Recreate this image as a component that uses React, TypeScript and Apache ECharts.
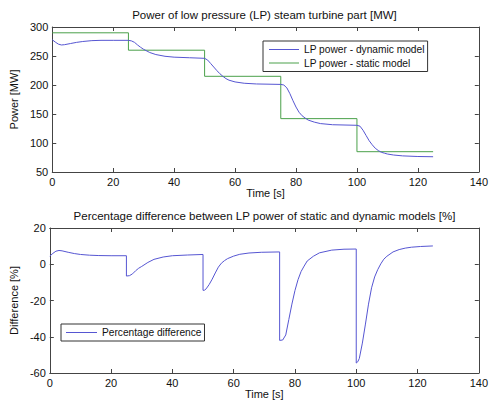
import React, { useEffect, useRef } from 'react';
import * as echarts from 'echarts';

const titleTop = 'Power of low pressure (LP) steam turbine part [MW]';
const titleBottom = 'Percentage difference between LP power of static and dynamic models [%]';
const nameDynamic = 'LP power - dynamic model';
const nameStatic = 'LP power - static model';
const nameDiff = 'Percentage difference';

const dynT = [0, 1, 2, 3, 4, 6, 8, 10, 13, 16, 20, 25, 26, 27, 28, 29, 30, 32, 34, 37, 40, 45, 50,
  51, 52, 53, 54, 55, 56, 57, 58, 60, 63, 67, 75,
  76, 77, 78, 79, 80, 81, 82, 83, 84, 86, 88, 92, 100,
  101, 102, 103, 104, 105, 106, 107, 108, 109, 110, 112, 115, 120, 125];
const dynV = [278, 274, 270.5, 269, 269.5, 271.5, 273.5, 275, 276.5, 277, 277, 277, 276, 273.5, 269, 265, 261.5, 256, 252.5, 249.5, 248, 247, 246,
  243, 237, 231, 225, 219.5, 215, 211, 208.3, 205.3, 203, 201.8, 201,
  200, 195, 185, 173, 162, 153, 147, 143, 139.5, 136, 133.5, 131.5, 130.5,
  129, 122, 113, 104, 97, 91, 87, 84, 82.5, 81, 79.3, 77.8, 76.7, 76.3];

const staticT = [0, 25, 50, 75, 100, 125];
const staticV = [290, 260, 215, 142, 85, 85];

const diffT = [0, 1, 2, 3, 4, 6, 8, 10, 13, 16, 20, 25, 25, 26, 27, 28, 29, 30, 32, 34, 37, 40, 45, 50,
  50, 50.5, 51, 52, 53, 54, 55, 56, 57, 58, 60, 62, 65, 69, 75,
  75, 76, 77, 78, 79, 80, 81, 82, 83, 84, 86, 88, 92, 96, 100,
  100, 100.5, 101, 102, 103, 104, 105, 106, 107, 108, 109, 110, 112, 114, 116, 118, 121, 125];
const diffV = [4.5, 6, 7.2, 7.6, 7.4, 6.6, 5.9, 5.4, 5.0, 4.8, 4.7, 4.7, -6.5, -6.3, -5.3, -3.6, -2.2, -1.2, 1.0, 2.7, 4.0, 4.7, 5.1, 5.4,
  -14.4, -14.3, -13.6, -11.2, -8.2, -4.8, -1.6, 0.6, 2.0, 3.1, 4.5, 5.5, 6.2, 6.6, 6.8,
  -42, -41.8, -39, -30.5, -22, -14.5, -8.5, -4, -1, 1.8, 4.4, 6.3, 7.8, 8.3, 8.4,
  -54.5, -53.8, -52, -43.5, -33, -22, -13, -7, -3, 0.2, 2.8, 4.4, 6.8, 8.1, 8.9, 9.4, 9.8, 10.1];

const font = '"Liberation Sans", Arial, Helvetica, sans-serif';
const frame = '#444';
const textColor = '#111';
const blue = '#5656d2';
const green = '#4aa04a';

const zip = (a: number[], b: number[]) => a.map((v, i) => [v, b[i]]);

function App() {
  const ref = useRef<HTMLDivElement>(null);
  useEffect(() => {
    if (!ref.current) return;
    const chart = echarts.init(ref.current, null, { renderer: 'svg' });
    const lineCommon = { show: true, onZero: false, lineStyle: { color: frame, width: 1 } };
    const tickCommon = { show: true, inside: true, length: 4, lineStyle: { color: frame, width: 1 } };
    const labelStyle = { color: textColor, fontSize: 11, fontFamily: font };
    const nameStyle = { color: textColor, fontSize: 11, fontFamily: font };
    const xAxis = (grid: number, pos: string, main: boolean) => ({
      gridIndex: grid, type: 'value', min: 0, max: 140, interval: 20, position: pos,
      axisLine: lineCommon, axisTick: tickCommon,
      axisLabel: { show: main, margin: 4, ...labelStyle },
      splitLine: { show: false },
      name: main ? 'Time [s]' : '', nameLocation: 'middle', nameGap: 15, nameTextStyle: nameStyle,
    });
    const yAxis = (grid: number, pos: string, main: boolean, min: number, max: number, interval: number, name: string) => ({
      gridIndex: grid, type: 'value', min, max, interval, position: pos,
      axisLine: lineCommon, axisTick: tickCommon,
      axisLabel: { show: main, margin: 4, ...labelStyle },
      splitLine: { show: false },
      name: main ? name : '', nameLocation: 'middle', nameGap: 25, nameTextStyle: nameStyle,
    });
    const legendText = { fontSize: 10.2, lineHeight: 13, color: textColor, fontFamily: font };
    const option: any = {
      animation: false,
      backgroundColor: '#ffffff',
      title: [
        { text: titleTop, left: 264.5, top: 9, padding: 0, textAlign: 'center', textStyle: { fontSize: 11.5, fontWeight: 'normal', color: textColor, fontFamily: font } },
        { text: titleBottom, left: 264.5, top: 210, padding: 0, textAlign: 'center', textStyle: { fontSize: 11.5, fontWeight: 'normal', color: textColor, fontFamily: font } },
      ],
      grid: [
        { left: 44, top: 27, width: 441, height: 145, show: false },
        { left: 44, top: 228, width: 441, height: 145, show: false },
      ],
      xAxis: [xAxis(0, 'bottom', true), xAxis(0, 'top', false), xAxis(1, 'bottom', true), xAxis(1, 'top', false)],
      yAxis: [
        yAxis(0, 'left', true, 50, 300, 50, 'Power [MW]'),
        yAxis(0, 'right', false, 50, 300, 50, ''),
        yAxis(1, 'left', true, -60, 20, 20, 'Difference [%]'),
        yAxis(1, 'right', false, -60, 20, 20, ''),
      ],
      legend: [
        {
          data: [nameDynamic, nameStatic], orient: 'vertical', left: 263, top: 41,
          padding: [2, 3, 2, 6], itemWidth: 30, itemHeight: 1, itemGap: 0.5, icon: 'rect',
          backgroundColor: '#fff', borderColor: '#333', borderWidth: 1,
          textStyle: legendText,
        },
        {
          data: [nameDiff], orient: 'vertical', left: 61, top: 324,
          padding: [2, 3, 2, 5], itemWidth: 31, itemHeight: 1, icon: 'rect',
          backgroundColor: '#fff', borderColor: '#333', borderWidth: 1,
          textStyle: legendText,
        },
      ],
      series: [
        { name: nameDynamic, type: 'line', xAxisIndex: 0, yAxisIndex: 0, data: zip(dynT, dynV), symbol: 'none', lineStyle: { width: 1, color: blue }, itemStyle: { color: blue }, z: 3 },
        { name: nameStatic, type: 'line', xAxisIndex: 0, yAxisIndex: 0, data: zip(staticT, staticV), step: 'end', symbol: 'none', lineStyle: { width: 1, color: green }, itemStyle: { color: green }, z: 2 },
        { name: nameDiff, type: 'line', xAxisIndex: 2, yAxisIndex: 2, data: zip(diffT, diffV), symbol: 'none', lineStyle: { width: 1, color: blue }, itemStyle: { color: blue } },
      ],
    };
    chart.setOption(option);
    return () => chart.dispose();
  }, []);
  return <div ref={ref} style={{ position: 'fixed', left: 0, top: 0, width: 491, height: 403 }} />;
}

export default App;
